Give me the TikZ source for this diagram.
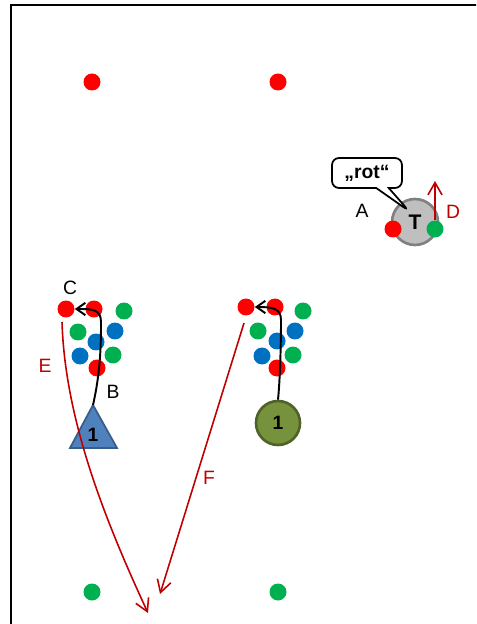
\documentclass[tikz,border=0pt]{standalone}
\usepackage{fontspec}
\setmainfont{Liberation Sans}
\usepackage{xcolor}
\usepackage{tikz}
\usetikzlibrary{arrows.meta,shapes,calc}

\definecolor{dotred}{HTML}{FF0000}
\definecolor{dotgreen}{HTML}{00B050}
\definecolor{dotblue}{HTML}{0070C0}
\definecolor{runred}{HTML}{C00000}
\definecolor{triblue}{HTML}{4F81BD}
\definecolor{triedge}{HTML}{385D8A}
\definecolor{olive}{HTML}{76923C}
\definecolor{oliveedge}{HTML}{4F6228}

\begin{document}
\begin{tikzpicture}[x=0.02cm,y=-0.02cm]
    \tikzset{dot/.style = {shape=circle,minimum size=0.34cm,inner sep=0pt}}
    \tikzset{run/.style = {draw=runred,line width=0.9pt,-{Straight Barb[length=7pt,width=8pt]}}}
    \tikzset{dribble/.style = {draw=black,line width=1.1pt,-{Straight Barb[length=5pt,width=7pt]}}}
    \tikzset{lbl/.style = {font=\fontsize{11}{13}\selectfont,inner sep=0pt}}
    \useasboundingbox (0,0) rectangle (476,624);
    \clip (0,0) rectangle (476,624);
    \draw[line width=1.5pt] (11,5) rectangle (490,640);

    % corner dots
    \node[dot,fill=dotred] (tl) at (92,82) {};
    \node[dot,fill=dotred] (tr) at (278,82) {};
    \node[dot,fill=dotgreen] (bl) at (92,592) {};
    \node[dot,fill=dotgreen] (br) at (278,592) {};

    % left group
    \node[dot,fill=dotred] (lr1) at (66,309) {};
    \node[dot,fill=dotred] (lr2) at (94,309) {};
    \node[dot,fill=dotgreen] (lg1) at (124,311) {};
    \node[dot,fill=dotgreen] (lg2) at (78,332) {};
    \node[dot,fill=dotblue] (lb1) at (115,331) {};
    \node[dot,fill=dotblue] (lb2) at (96,342) {};
    \node[dot,fill=dotblue] (lb3) at (80,356) {};
    \node[dot,fill=dotgreen] (lg3) at (113,355) {};
    \node[dot,fill=dotred] (lr3) at (97,368) {};

    % right group
    \node[dot,fill=dotred] (rr1) at (246,307) {};
    \node[dot,fill=dotred] (rr2) at (275,307) {};
    \node[dot,fill=dotgreen] (rg1) at (303,311) {};
    \node[dot,fill=dotgreen] (rg2) at (258,331) {};
    \node[dot,fill=dotblue] (rb1) at (295,331) {};
    \node[dot,fill=dotblue] (rb2) at (277,341) {};
    \node[dot,fill=dotblue] (rb3) at (262,356) {};
    \node[dot,fill=dotgreen] (rg3) at (293,355) {};
    \node[dot,fill=dotred] (rr3) at (277,368) {};

    % players
    \coordinate (apex) at (93,405);
    \draw[fill=triblue,draw=triedge,line width=1pt] (apex) -- (117,448) -- (70,448) -- cycle;
    \node[lbl,font=\bfseries\fontsize{11}{13}\selectfont] (p1) at (93,435) {1};
    \node[shape=circle,minimum size=0.88cm,inner sep=0pt,fill=olive,draw=oliveedge,line width=1.5pt,
          font=\bfseries\fontsize{11}{13}\selectfont] (p2) at (278,423) {1};
    \node[shape=circle,minimum size=0.92cm,inner sep=0pt,fill=black!25,draw=black!50,line width=1.5pt,
          font=\bfseries\fontsize{12}{14}\selectfont] (coach) at (415,222) {T};
    \node[dot,fill=dotred] (cr) at (393,229) {};
    \node[dot,fill=dotgreen] (cg) at (435,229) {};
    \node[rectangle callout,draw,fill=white,rounded corners=4pt,line width=1pt,minimum width=1.4cm,minimum height=0.6cm,
          callout absolute pointer={(409,211)},font=\bfseries\fontsize{11}{13}\selectfont] (say) at (367,173) {„rot“};

    % labels
    \node[lbl] (la) at (362,211) {A};
    \node[lbl] (lb) at (113,392) {B};
    \node[lbl] (lc) at (70,288) {C};
    \node[lbl,text=runred] (ld) at (453,212) {D};
    \node[lbl,text=runred] (le) at (45,366) {E};
    \node[lbl,text=runred] (lf) at (209,478) {F};

    % dribbling
    \draw[dribble] (apex) .. controls (101,370) and (101,340) .. (101,322)
        .. controls (101,309) and (92,309) .. (lr1.east);
    \draw[dribble] (p2.north) .. controls (280,380) and (281,345) .. (281,320)
        .. controls (281,308) and (272,307) .. (rr1.east);

    % runs
    \coordinate (e0) at (62,322);
    \coordinate (e1) at (148,613);
    \coordinate (f0) at (244,323);
    \coordinate (f1) at (160,594);
    \draw[run] (e0) .. controls (65,420) and (105,520) .. (e1);
    \draw[run] (f0) -- (f1);
    \draw[run] (cg.north) -- (435,181);
\end{tikzpicture}
\end{document}
